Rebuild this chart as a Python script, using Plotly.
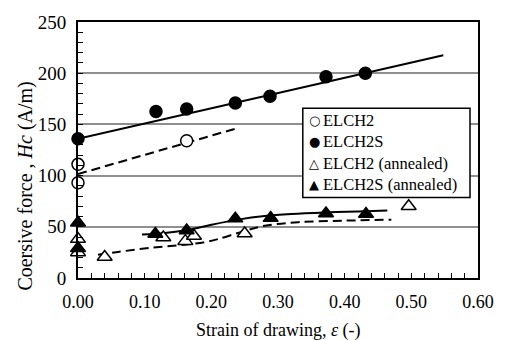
import plotly.graph_objects as go

# ---- data ----
elch2_x = [0.0, 0.0, 0.163]
elch2_y = [111, 93, 134]

elch2s_x = [0.0, 0.117, 0.163, 0.236, 0.288, 0.372, 0.431]
elch2s_y = [136, 162.5, 165, 171, 177.5, 196.5, 200]

elch2_ann_x = [0.0, 0.0, 0.04, 0.128, 0.161, 0.174, 0.25, 0.496]
elch2_ann_y = [38, 25, 20.5, 39.5, 36, 41, 43.5, 70]

elch2s_ann_x = [0.0, 0.0, 0.116, 0.163, 0.236, 0.289, 0.372, 0.432]
elch2s_ann_y = [54, 29, 43, 46.5, 58, 58.5, 63, 62.5]

# fitted lines / trend curves
fit_elch2s_x = [0.0, 0.548]
fit_elch2s_y = [136, 217.5]
fit_elch2_x = [0.0, 0.24]
fit_elch2_y = [101.5, 146.5]
curve_s_ann_x = [0.096, 0.13, 0.165, 0.20, 0.24, 0.28, 0.32, 0.37, 0.42, 0.464]
curve_s_ann_y = [42.5, 44, 47, 52, 57, 60.5, 62.5, 64, 65, 65.8]
curve_ann_x = [0.03, 0.06, 0.11, 0.16, 0.19, 0.21, 0.245, 0.28, 0.33, 0.40, 0.47]
curve_ann_y = [22.8, 25.5, 29.5, 32.5, 35, 38, 45, 51, 54.5, 56, 57]

series_names = ["ELCH2", "ELCH2S", "ELCH2 (annealed)", "ELCH2S (annealed)"]
legend_glyphs = ["○", "●", "△", "▲"]

x_title = "Strain of drawing, <i>ε</i> (-)"
y_title = "Coersive force , <i>Hc</i> (A/m)"

FONT = "Liberation Serif"

fig = go.Figure()

line = dict(color="black", width=2)
dash = dict(color="black", width=2, dash="9px,5px")
fig.add_trace(go.Scatter(x=fit_elch2s_x, y=fit_elch2s_y, mode="lines", line=line, showlegend=False))
fig.add_trace(go.Scatter(x=fit_elch2_x, y=fit_elch2_y, mode="lines", line=dash, showlegend=False))
fig.add_trace(go.Scatter(x=curve_s_ann_x, y=curve_s_ann_y, mode="lines", line=dict(line, shape="spline"), showlegend=False))
fig.add_trace(go.Scatter(x=curve_ann_x, y=curve_ann_y, mode="lines", line=dict(dash, shape="spline"), showlegend=False))

def pts(x, y, name, symbol, filled):
    return go.Scatter(
        x=x, y=y, mode="markers", name=name, cliponaxis=False, showlegend=False,
        marker=dict(symbol=symbol, size=12 if "circle" in symbol else 13,
                    color="black" if filled else "white",
                    line=dict(color="black", width=1.5)))

fig.add_trace(pts(elch2_x, elch2_y, series_names[0], "circle", False))
fig.add_trace(pts(elch2s_x, elch2s_y, series_names[1], "circle", True))
fig.add_trace(pts(elch2_ann_x, elch2_ann_y, series_names[2], "triangle-up", False))
fig.add_trace(pts(elch2s_ann_x, elch2s_ann_y, series_names[3], "triangle-up", True))

# ---- legend box drawn as shape + text (Excel-style glyph legend) ----
leg_x0, leg_x1, leg_y0, leg_y1 = 0.562, 0.980, 0.314, 0.663
row_y = [0.617, 0.533, 0.448, 0.364]
annotations = []
for name, glyph, yy in zip(series_names, legend_glyphs, row_y):
    annotations.append(dict(text=glyph, xref="paper", yref="paper", x=0.59, y=yy,
                            xanchor="center", yanchor="middle", showarrow=False,
                            font=dict(family="DejaVu Sans", size=13, color="black")))
    annotations.append(dict(text=name, xref="paper", yref="paper", x=0.607, y=yy,
                            xanchor="left", yanchor="middle", showarrow=False,
                            font=dict(family=FONT, size=16.5, color="black")))

annotations += [
    dict(text=x_title, xref="paper", yref="paper", x=0.5, y=-0.206,
         xanchor="center", yanchor="middle", showarrow=False,
         font=dict(family=FONT, size=18, color="black")),
    dict(text=y_title, xref="paper", yref="paper", x=0, y=0.357,
         xshift=-52, xanchor="center", yanchor="middle", textangle=-90,
         showarrow=False, font=dict(family=FONT, size=20, color="black")),
]

fig.update_layout(
    width=506, height=340,
    margin=dict(l=78, r=24, t=17, b=62),
    paper_bgcolor="white", plot_bgcolor="white",
    font=dict(family=FONT, size=16, color="black"),
    showlegend=False,
    shapes=[dict(type="rect", xref="paper", yref="paper", x0=leg_x0, x1=leg_x1,
                 y0=leg_y0, y1=leg_y1, fillcolor="white",
                 line=dict(color="black", width=1.5), layer="above")],
    annotations=annotations,
)
fig.update_xaxes(
    range=[0, 0.6], dtick=0.1, tickformat=".2f", showgrid=False, zeroline=False,
    showline=True, linecolor="black", linewidth=2, mirror=True,
    ticks="inside", ticklen=5, tickcolor="black", ticklabelstandoff=6,
    minor=dict(dtick=0.02, ticks="inside", ticklen=5, tickcolor="black"),
    tickfont=dict(family=FONT, size=18, color="black"),
)
fig.update_yaxes(
    range=[0, 250], dtick=50, showgrid=True, gridcolor="#8f8f8f", gridwidth=1.5, zeroline=False,
    showline=True, linecolor="black", linewidth=2, mirror=True,
    ticks="inside", ticklen=5, tickcolor="black", ticklabelstandoff=6,
    minor=dict(dtick=10, ticks="inside", ticklen=5, tickcolor="black"),
    tickfont=dict(family=FONT, size=19, color="black"),
)

fig.write_html("out.html")
